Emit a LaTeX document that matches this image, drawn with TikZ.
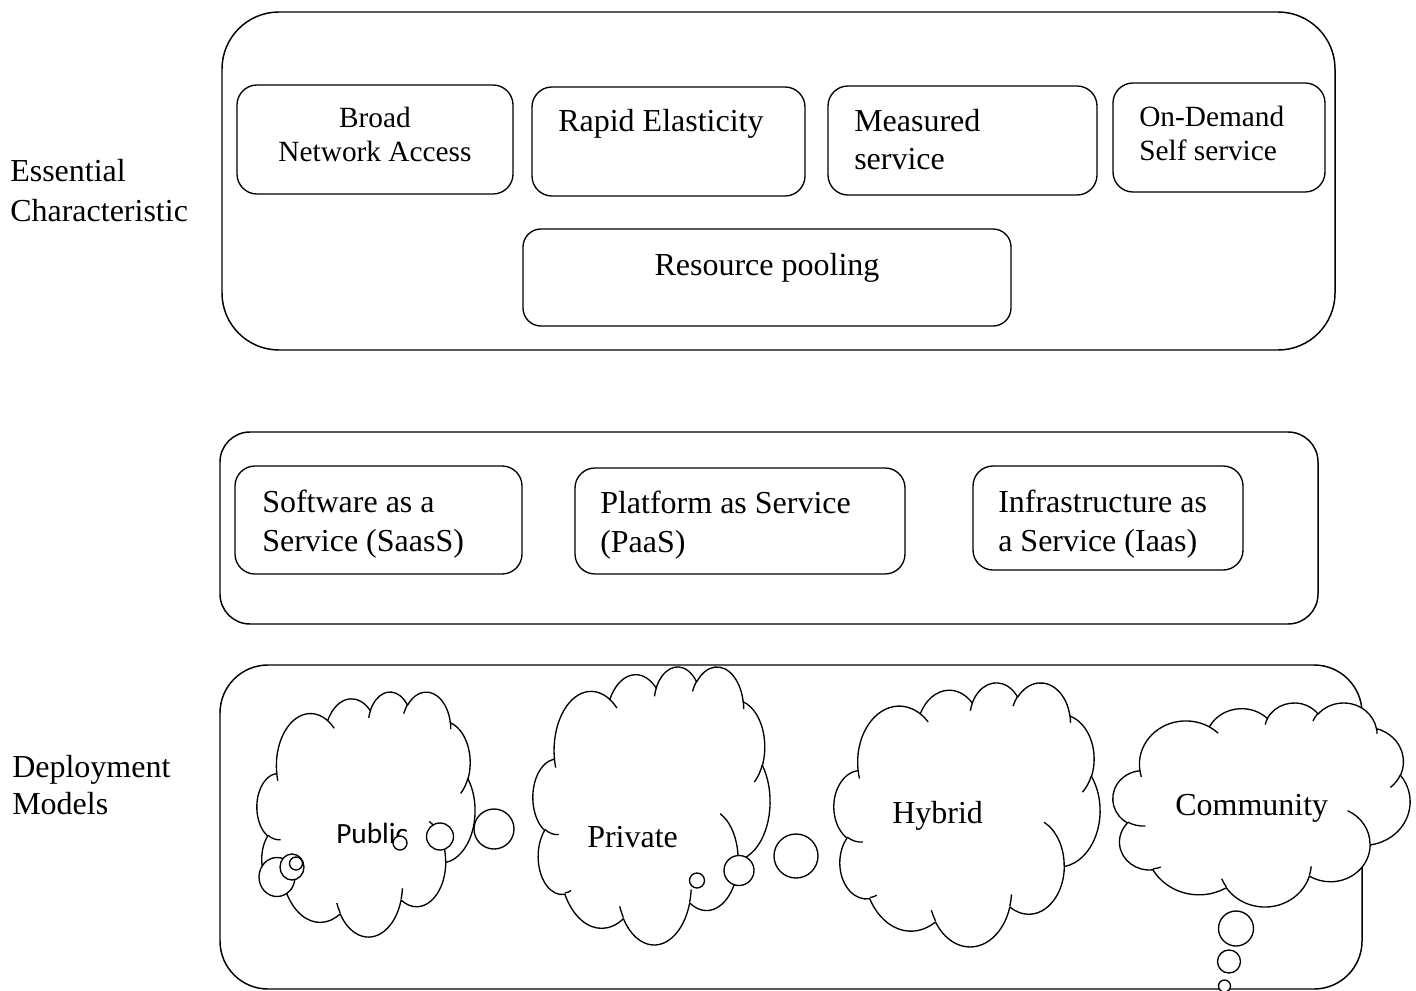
\documentclass[tikz,border=0pt]{standalone}
\usepackage{fontspec}
\setmainfont{Liberation Serif}
\newfontfamily\calibrifont{Carlito}

% ---------- cloud callout outline (DrawingML-style arcs on a 432x432 grid) ----------
\newcommand\cldmove[2]{%
  \pgfpathmoveto{\pgfpoint{\cldX pt + #1*\cldSx pt}{\cldY pt - #2*\cldSy pt}}}
% #1,#2 radii, #3 start angle, #4 sweep (screen angles, clockwise positive)
\newcommand\cldarc[4]{%
  \pgfmathsetmacro\cldA{atan2((#1)*sin(#3),(#2)*cos(#3))}%
  \pgfmathsetmacro\cldB{atan2((#1)*sin((#3)+(#4)),(#2)*cos((#3)+(#4)))}%
  \pgfmathsetmacro\cldD{(\cldB)-(\cldA)}%
  \pgfmathsetmacro\cldD{(\cldD)+360*and((#4)>0,(\cldD)<0)-360*and((#4)<0,(\cldD)>0)}%
  \pgfmathsetmacro\cldS{0-(\cldA)}%
  \pgfmathsetmacro\cldE{0-(\cldA)-(\cldD)}%
  \pgfmathsetmacro\cldRx{(#1)*\cldSx}%
  \pgfmathsetmacro\cldRy{(#2)*\cldSy}%
  \pgfpatharc{\cldS}{\cldE}{\cldRx pt and \cldRy pt}}
% #1,#2 top-left corner, #3 width, #4 height (all in px)
\newcommand\cloudshape[4]{%
  \pgfmathsetmacro\cldX{(#1)*0.75}%
  \pgfmathsetmacro\cldY{0-(#2)*0.75}%
  \pgfmathsetmacro\cldSx{(#3)*0.75/432}%
  \pgfmathsetmacro\cldSy{(#4)*0.75/432}%
  \begin{pgfscope}%
    \pgfsetlinewidth{1pt}%
    \pgfsetfillcolor{white}%
    \pgfsetstrokecolor{black}%
    \pgfsetroundjoin
    \cldmove{39.00}{143.70}%
    \cldarc{67.53}{91.90}{-190.4875}{123.7805}%
    \cldarc{53.33}{72.67}{-144.1024}{89.9452}%
    \cldarc{43.65}{59.45}{-145.8079}{99.7230}%
    \cldarc{48.57}{65.95}{-130.9861}{117.2417}%
    \cldarc{53.33}{72.73}{-78.7089}{109.0269}%
    \cldarc{67.75}{92.20}{-46.2673}{130.2690}%
    \cldarc{57.85}{78.67}{0.6250}{114.0333}%
    \cldarc{67.52}{92.15}{22.4516}{115.1726}%
    \cldarc{77.20}{105.43}{66.2426}{75.7110}%
    \cldarc{43.60}{59.18}{-274.9421}{146.7356}%
    \cldarc{43.45}{59.45}{-246.8285}{152.5189}%
    \pgfpathclose
    \pgfusepath{fill,stroke}%
    % inner folds
    \cldmove{46.93}{261.77}\cldarc{43.45}{59.45}{86.7420}{26.4295}%
    \cldmove{69.28}{348.99}\cldarc{43.60}{59.18}{73.6105}{11.4475}%
    \cldmove{164.78}{390.90}\cldarc{67.52}{92.15}{137.6242}{14.0811}%
    \cldmove{288.27}{347.51}\cldarc{67.52}{92.15}{6.4533}{15.9984}%
    \cldmove{341.29}{229.54}\cldarc{57.85}{78.67}{-70.2924}{70.9174}%
    \cldmove{417.98}{153.54}\cldarc{53.33}{72.73}{30.3180}{27.7515}%
    \cldmove{383.24}{54.26}\cldarc{48.57}{65.95}{-13.7443}{14.8589}%
    \cldmove{290.78}{39.52}\cldarc{48.57}{65.95}{-149.1815}{18.1954}%
    \cldmove{221.41}{47.20}\cldarc{43.65}{59.45}{-163.4943}{17.6864}%
    \cldmove{140.00}{51.92}\cldarc{67.53}{91.90}{-66.7070}{12.3194}%
    \cldmove{41.27}{157.89}\cldarc{67.53}{91.90}{157.6544}{11.8582}%
    \pgfusepath{stroke}%
  \end{pgfscope}}

% rounded panel as a named node: name, x1, y1, x2, y2, corner radius, style
\newcommand\panel[7]{%
  \node[#7, rounded corners={#6*0.75pt}, minimum width={(#4-#2)*0.75pt},
        minimum height={(#5-#3)*0.75pt}] (#1) at ({(#2+#4)/2},{(#3+#5)/2}) {};}

\tikzset{
  frame/.style={draw, line width=1.1pt, inner sep=0pt, outer sep=0pt},
  card/.style={draw, line width=1pt, inner sep=0pt, outer sep=0pt},
  big/.style={inner sep=0pt, anchor=base west, font=\fontsize{24}{28}\selectfont},
  small/.style={inner sep=0pt, anchor=base west, font=\fontsize{22}{26}\selectfont},
  sanslbl/.style={inner sep=0pt, anchor=base west, font=\calibrifont\fontsize{22}{26}\selectfont},
  bubble/.style={draw, fill=white, line width=1pt},
}

\begin{document}
\begin{tikzpicture}[x=0.75pt, y=-0.75pt]
\useasboundingbox (0,0) rectangle (1416,991);
\fill[white] (0,0) rectangle (1416,991);

% ---------- outer frames ----------
\panel{charframe}{222}{12}{1335}{350}{57}{frame}
\panel{serviceframe}{220}{432}{1318}{624}{30}{frame}
\panel{deployframe}{220}{665}{1362}{989}{48}{frame}

% ---------- essential characteristics ----------
\panel{broad}{237}{85}{513}{194}{20}{card}
\panel{rapid}{532}{87}{805}{196}{20}{card}
\panel{measured}{828}{86}{1097}{195}{20}{card}
\panel{ondemand}{1113}{83}{1325}{192}{20}{card}
\panel{pooling}{523}{229}{1011}{326}{18}{card}

\node[small, anchor=base] (broadA) at (375,127.5) {Broad};
\node[small, anchor=base] (broadB) at (375,161.5) {Network Access};
\node[big] (rapidA) at (558,131.5) {Rapid Elasticity};
\node[big] (measuredA) at (854,131.5) {Measured};
\node[big] (measuredB) at (854,170) {service};
\node[small] (ondemandA) at (1139,126.5) {On-Demand};
\node[small] (ondemandB) at (1139,160.5) {Self service};
\node[big, anchor=base] (poolingA) at (767,275) {Resource pooling};

% ---------- service models ----------
\panel{saas}{235}{466}{522}{574}{20}{card}
\panel{paas}{575}{468}{905}{574}{20}{card}
\panel{iaas}{973}{466}{1243}{570}{20}{card}

\node[big] (saasA) at (262,512.5) {Software as a};
\node[big] (saasB) at (262,551) {Service (SaasS)};
\node[big] (paasA) at (600,513.5) {Platform as Service};
\node[big] (paasB) at (600,552) {(PaaS)};
\node[big] (iaasA) at (998,512) {Infrastructure as};
\node[big] (iaasB) at (998,551) {a Service (Iaas)};

% ---------- side labels ----------
\node[big] (essA) at (10,181.5) {Essential};
\node[big] (essB) at (10,221.5) {Characteristic};
\node[big] (depA) at (12,777) {Deployment};
\node[big] (depB) at (12,814.5) {Models};

% ---------- deployment clouds ----------
\cloudshape{257}{691.2}{218}{245}
\cloudshape{533}{666}{237}{278}
\cloudshape{834}{682}{266}{264}
\cloudshape{1113}{702.3}{297}{204}

\node[sanslbl] (public) at (336,843.5) {Public};
\node[big] (private) at (587,847.5) {Private};
\node[big] (hybrid) at (892,823.5) {Hybrid};
\node[big] (community) at (1175,815) {Community};

% thought bubbles
\draw[bubble] (277,877) ellipse [x radius={18*0.75pt}, y radius={19.5*0.75pt}];
\draw[bubble] (292,867) ellipse [x radius={12*0.75pt}, y radius={13*0.75pt}];
\draw[bubble] (296,863.5) circle [radius={6.5*0.75pt}];
\draw[bubble] (440,836.5) circle [radius={13.5*0.75pt}];
\draw[bubble] (494,829) circle [radius={20*0.75pt}];
\draw[bubble] (400,843) circle [radius={7*0.75pt}];

\draw[bubble] (796,856) circle [radius={22*0.75pt}];
\draw[bubble] (739,870.5) circle [radius={15*0.75pt}];
\draw[bubble] (697,880.5) circle [radius={7.5*0.75pt}];

\draw[bubble] (1236,928.5) circle [radius={17.5*0.75pt}];
\draw[bubble] (1229,961.5) circle [radius={11.5*0.75pt}];
\draw[bubble] (1224.5,986) circle [radius={6*0.75pt}];
\end{tikzpicture}
\end{document}
